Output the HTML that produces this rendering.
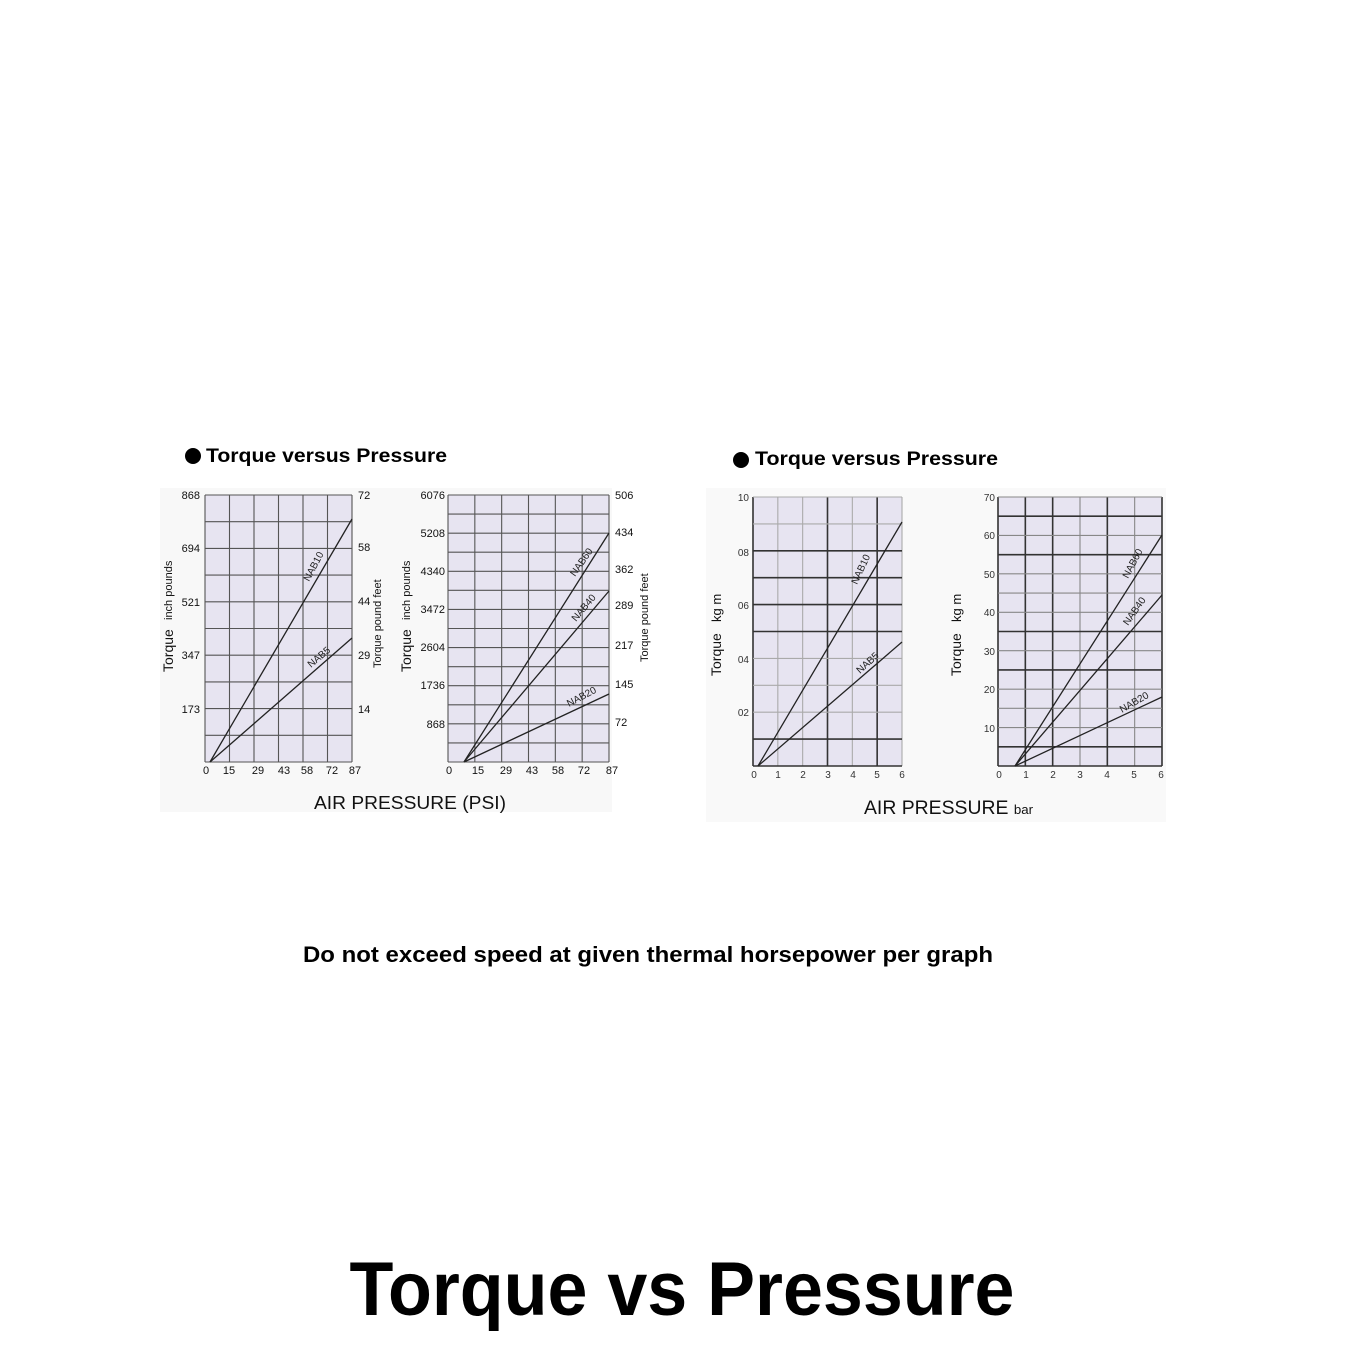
<!DOCTYPE html>
<html><head><meta charset="utf-8"><style>
html,body{margin:0;padding:0;background:#fff;}
svg{display:block;font-family:"Liberation Sans",Arial,sans-serif;}
</style></head><body>
<svg id="s" width="1366" height="1366" viewBox="0 0 1366 1366" xmlns="http://www.w3.org/2000/svg">
<rect width="1366" height="1366" fill="#fff"/>
<rect x="160" y="488" width="452" height="324" fill="#f8f8f8"/>
<rect x="706" y="488" width="460" height="334" fill="#f9f9f9"/>
<g id="grids"></g>
<!-- titles -->
<circle cx="193" cy="456" r="8" fill="#000"/>
<text x="206" y="462" font-size="19" font-weight="bold" textLength="241" lengthAdjust="spacingAndGlyphs">Torque versus Pressure</text>
<circle cx="741" cy="460" r="8" fill="#000"/>
<text x="755" y="465" font-size="19" font-weight="bold" textLength="243" lengthAdjust="spacingAndGlyphs">Torque versus Pressure</text>

<g font-size="11" fill="#111">
<g text-anchor="end">
<text x="200" y="499">868</text><text x="200" y="552">694</text><text x="200" y="606">521</text><text x="200" y="659">347</text><text x="200" y="713">173</text>
<text x="445" y="499">6076</text><text x="445" y="537">5208</text><text x="445" y="575">4340</text><text x="445" y="613">3472</text><text x="445" y="651">2604</text><text x="445" y="689">1736</text><text x="445" y="728">868</text>
</g>
<text x="358" y="499">72</text><text x="358" y="551">58</text><text x="358" y="605">44</text><text x="358" y="659">29</text><text x="358" y="713">14</text>
<text x="615" y="499">506</text><text x="615" y="536">434</text><text x="615" y="573">362</text><text x="615" y="609">289</text><text x="615" y="649">217</text><text x="615" y="688">145</text><text x="615" y="726">72</text>
<g text-anchor="middle">
<text x="206" y="774">0</text><text x="229" y="774">15</text><text x="258" y="774">29</text><text x="284" y="774">43</text><text x="307" y="774">58</text><text x="332" y="774">72</text><text x="355" y="774">87</text>
<text x="449" y="774">0</text><text x="478" y="774">15</text><text x="506" y="774">29</text><text x="532" y="774">43</text><text x="558" y="774">58</text><text x="584" y="774">72</text><text x="612" y="774">87</text>
</g>
<text transform="translate(173,672) rotate(-90)" font-size="14">Torque</text>
<text transform="translate(172,620) rotate(-90)" font-size="11">inch pounds</text>
<text transform="translate(381,668) rotate(-90)" font-size="11">Torque pound feet</text>
<text transform="translate(411,672) rotate(-90)" font-size="14">Torque</text>
<text transform="translate(410,620) rotate(-90)" font-size="11">inch pounds</text>
<text transform="translate(648,662) rotate(-90)" font-size="11">Torque pound feet</text>
</g>
<text x="314" y="809" font-size="18" fill="#111" textLength="192" lengthAdjust="spacingAndGlyphs">AIR PRESSURE (PSI)</text>

<g font-size="10" fill="#333">
<g text-anchor="end">
<text x="749" y="501">10</text><text x="749" y="556">08</text><text x="749" y="609">06</text><text x="749" y="663">04</text><text x="749" y="716">02</text>
<text x="995" y="501">70</text><text x="995" y="539">60</text><text x="995" y="578">50</text><text x="995" y="616">40</text><text x="995" y="655">30</text><text x="995" y="693">20</text><text x="995" y="732">10</text>
</g>
<g text-anchor="middle">
<text x="754" y="778">0</text><text x="778" y="778">1</text><text x="803" y="778">2</text><text x="828" y="778">3</text><text x="853" y="778">4</text><text x="877" y="778">5</text><text x="902" y="778">6</text>
<text x="999" y="778">0</text><text x="1026" y="778">1</text><text x="1053" y="778">2</text><text x="1080" y="778">3</text><text x="1107" y="778">4</text><text x="1134" y="778">5</text><text x="1161" y="778">6</text>
</g>
<text transform="translate(721,676) rotate(-90)" font-size="14" fill="#111">Torque</text>
<text transform="translate(721,622) rotate(-90)" font-size="13" fill="#111">kg m</text>
<text transform="translate(961,676) rotate(-90)" font-size="14" fill="#111">Torque</text>
<text transform="translate(961,622) rotate(-90)" font-size="13" fill="#111">kg m</text>
</g>
<text x="864" y="814" font-size="19" fill="#111" textLength="169" lengthAdjust="spacingAndGlyphs">AIR PRESSURE <tspan font-size="13">bar</tspan></text>

<g font-size="10" fill="#222">
<text transform="translate(309,582) rotate(-62)">NAB10</text>
<text transform="translate(311,668) rotate(-40)">NAB5</text>
<text transform="translate(575,577) rotate(-55)">NAB60</text>
<text transform="translate(576,622) rotate(-50)">NAB40</text>
<text transform="translate(569,707) rotate(-28)">NAB20</text>
<text transform="translate(857,585) rotate(-65)">NAB10</text>
<text transform="translate(860,674) rotate(-42)">NAB5</text>
<text transform="translate(1128,579) rotate(-62)">NAB60</text>
<text transform="translate(1128,626) rotate(-55)">NAB40</text>
<text transform="translate(1122,713) rotate(-30)">NAB20</text>
</g>

<text x="648" y="962" font-size="22" font-weight="bold" text-anchor="middle" textLength="690" lengthAdjust="spacingAndGlyphs">Do not exceed speed at given thermal horsepower per graph</text>
<text x="682" y="1315" font-size="76" font-weight="bold" text-anchor="middle" textLength="665" lengthAdjust="spacingAndGlyphs">Torque vs Pressure</text>
</svg>
<script>
var g=document.getElementById('grids'),NS='http://www.w3.org/2000/svg';
function el(t,a){var e=document.createElementNS(NS,t);for(var k in a)e.setAttribute(k,a[k]);g.appendChild(e);return e;}
function grid(x0,x1,y0,y1,nc,nr,thickV,thickH,col){
 el('rect',{x:x0,y:y0,width:x1-x0,height:y1-y0,fill:'#e7e4f1'});
 for(var i=0;i<=nc;i++){var x=x0+(x1-x0)*i/nc;var th=thickV&&thickV.indexOf(i)>=0;
  el('line',{x1:x,y1:y0,x2:x,y2:y1,stroke:th?'#333':col,'stroke-width':th?1.6:1.1});}
 for(var j=0;j<=nr;j++){var y=y0+(y1-y0)*j/nr;var th=thickH&&thickH.indexOf(j)>=0;
  el('line',{x1:x0,y1:y,x2:x1,y2:y,stroke:th?'#333':col,'stroke-width':th?1.6:1.1});}
}
grid(205,352,495,762,6,10,null,null,'#555');
grid(448,609,495,762,6,14,null,null,'#555');
grid(753,902,497,766,6,10,[0,3,5],[2,3,4,5,9,10],'#aaa');
grid(998,1162,497,766,6,14,[0,1,2,4,6],[1,3,7,9,13,14],'#888');
function L(a,b,c,d){el('line',{x1:a,y1:b,x2:c,y2:d,stroke:'#222','stroke-width':1.3});}
L(210,762,352,519);L(210,762,352,638);
L(464,762,609,533);L(464,762,609,591);L(464,762,609,694);
L(758,766,902,522);L(758,766,902,642);
L(1015,766,1162,535);L(1015,766,1162,595);L(1015,766,1162,697);
</script>
</body></html>
